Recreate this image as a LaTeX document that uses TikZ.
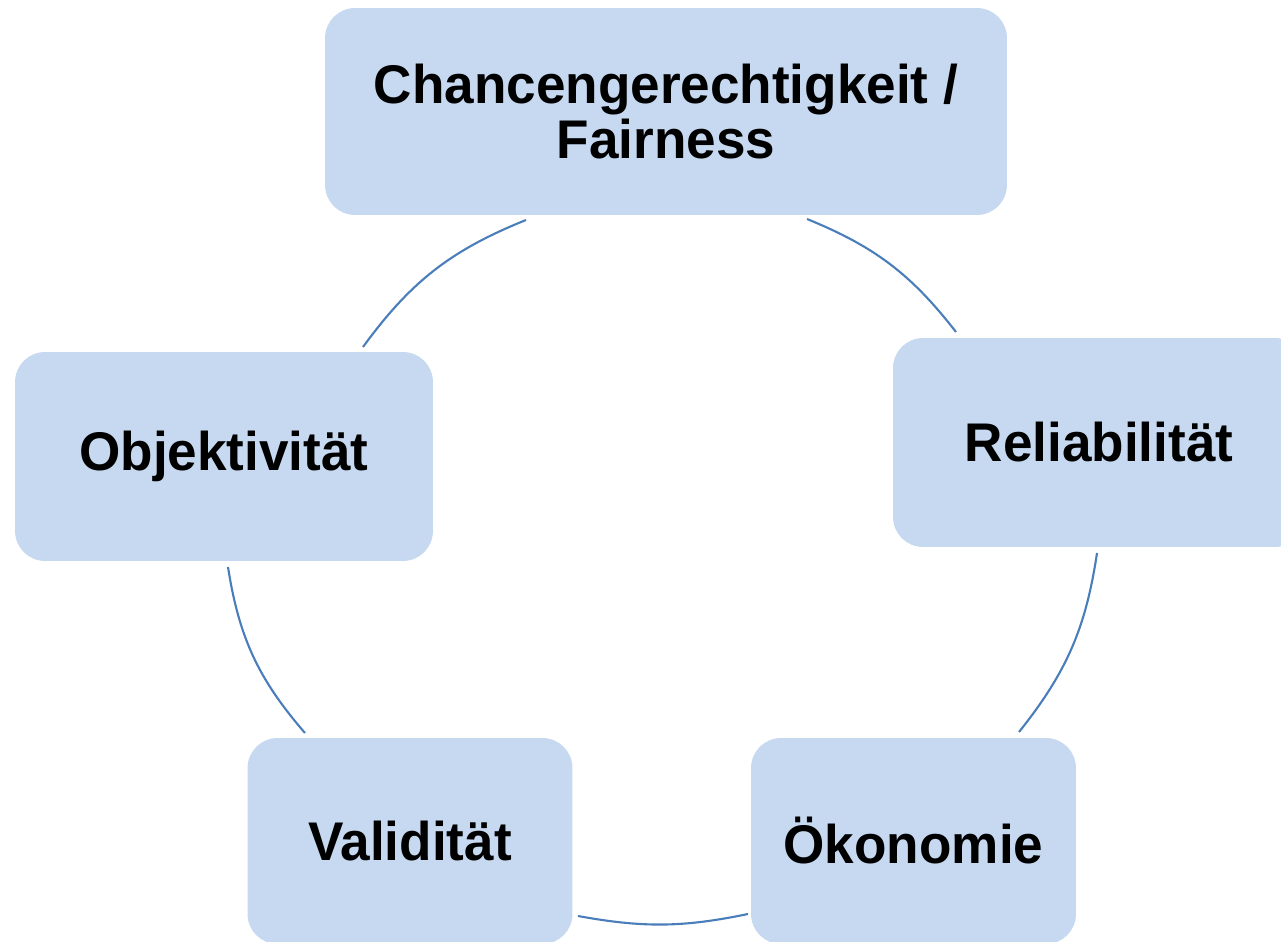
\documentclass[tikz,border=0pt]{standalone}
\usepackage{fontspec}
\setmainfont[FakeStretch=0.975]{Liberation Sans}
\definecolor{boxfill}{HTML}{C6D9F1}
\definecolor{arcblue}{HTML}{4A7EBB}

\begin{document}
\begin{tikzpicture}[
        x=0.02cm, y=-0.02cm,
        crit/.style={fill=boxfill, rounded corners=0.6cm, align=center,
                     inner sep=0pt, font=\fontsize{31}{31.5}\selectfont\bfseries},
        ring/.style={draw=arcblue, line width=1.2pt},
    ]
        \clip (0,0) rectangle (1281,942);

        \node[crit, minimum width=13.64cm, minimum height=4.14cm] (fair)
            at (666,111.5) {Chancengerechtigkeit /\\Fairness};
        \node[crit, minimum width=8.24cm, minimum height=4.18cm] (rel)
            at (1099,442.5) {Reliabilität};
        \node[crit, minimum width=6.5cm, minimum height=4.12cm] (oek)
            at (913.5,841) {Ökonomie};
        \node[crit, minimum width=6.5cm, minimum height=4.12cm] (val)
            at (410,841) {Validität};
        \node[crit, minimum width=8.36cm, minimum height=4.18cm] (obj)
            at (224,456.5) {Objektivität};

        \coordinate (fair-out) at (807,219);
        \coordinate (rel-in)   at (956,332);
        \coordinate (rel-out)  at (1097,553);
        \coordinate (oek-in)   at (1019,732);
        \coordinate (oek-out)  at (748,914);
        \coordinate (val-in)   at (578,916);
        \coordinate (val-out)  at (305,733);
        \coordinate (obj-in)   at (228,567);
        \coordinate (obj-out)  at (363,347);
        \coordinate (fair-in)  at (526,220);

        \draw[ring] (fair-out) to[bend left=15] (rel-in);
        \draw[ring] (rel-out)  to[bend left=15] (oek-in);
        \draw[ring] (oek-out)  to[bend left=11] (val-in);
        \draw[ring] (val-out)  to[bend left=16] (obj-in);
        \draw[ring] (obj-out)  to[bend left=16] (fair-in);
    \end{tikzpicture}
\end{document}
